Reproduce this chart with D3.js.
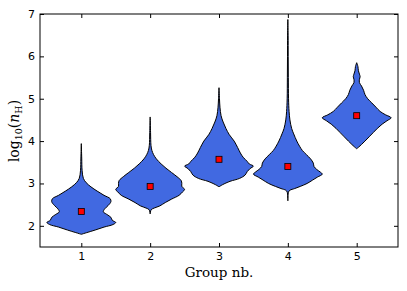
<!DOCTYPE html>
<html><head><meta charset="utf-8">
<script src="https://cdn.jsdelivr.net/npm/d3@7"></script>
<style>body{margin:0;background:#fff}svg{display:block}</style>
</head><body><svg id="c" width="407" height="291"></svg>
<script>
const groups = [1, 2, 3, 4, 5];
const xTicks = [1, 2, 3, 4, 5];
const yTicks = [2, 3, 4, 5, 6, 7];
const means = [2.34, 2.93, 3.57, 3.40, 4.60];
// violin outlines: [log10(nH), half width in group units]
const violin1 = [[3.94,0],[3.6,0.006],[3.3,0.012],[3.12,0.03],[3.02,0.07],[2.92,0.14],[2.82,0.23],[2.72,0.33],[2.64,0.42],[2.57,0.43],[2.48,0.39],[2.4,0.34],[2.33,0.32],[2.27,0.37],[2.2,0.43],[2.13,0.45],[2.08,0.5],[2.03,0.46],[1.97,0.33],[1.9,0.2],[1.84,0.08],[1.8,0]];
const violin2 = [[4.57,0],[4.2,0.006],[3.9,0.012],[3.78,0.025],[3.68,0.05],[3.58,0.09],[3.46,0.16],[3.36,0.23],[3.26,0.31],[3.16,0.39],[3.07,0.45],[3.0,0.46],[2.93,0.46],[2.86,0.5],[2.8,0.47],[2.72,0.42],[2.63,0.31],[2.55,0.22],[2.47,0.14],[2.42,0.06],[2.38,0.015],[2.28,0]];
const violin3 = [[5.26,0],[5.0,0.007],[4.8,0.014],[4.6,0.03],[4.45,0.06],[4.3,0.1],[4.15,0.15],[4.0,0.22],[3.85,0.27],[3.72,0.31],[3.62,0.35],[3.52,0.41],[3.46,0.44],[3.41,0.5],[3.35,0.45],[3.28,0.41],[3.2,0.38],[3.12,0.3],[3.05,0.16],[2.97,0.05],[2.92,0]];
const violin4 = [[6.87,0],[6.5,0.004],[6.0,0.005],[5.5,0.007],[5.0,0.01],[4.7,0.018],[4.5,0.03],[4.3,0.055],[4.17,0.085],[4.0,0.13],[3.88,0.17],[3.78,0.21],[3.68,0.27],[3.58,0.33],[3.48,0.37],[3.4,0.38],[3.33,0.42],[3.27,0.47],[3.22,0.5],[3.15,0.43],[3.08,0.36],[3.0,0.28],[2.93,0.18],[2.88,0.1],[2.84,0.03],[2.8,0.01],[2.59,0]];
const violin5 = [[5.85,0],[5.76,0.018],[5.66,0.025],[5.58,0.04],[5.52,0.05],[5.46,0.04],[5.38,0.04],[5.3,0.07],[5.2,0.1],[5.1,0.12],[5.0,0.16],[4.9,0.22],[4.8,0.28],[4.7,0.34],[4.62,0.42],[4.55,0.5],[4.48,0.44],[4.4,0.37],[4.3,0.3],[4.2,0.24],[4.1,0.18],[4.0,0.12],[3.92,0.07],[3.86,0.03],[3.82,0]];
const violins = [violin1, violin2, violin3, violin4, violin5];

const svg = d3.select("#c");
const L = 40, R = 398, T = 14, B = 247;
const x = d3.scaleLinear().domain([0.4, 5.6]).range([L, R]);
const y = d3.scaleLinear().domain([1.5, 7]).range([B, T]);

const g = svg.append("g");
violins.forEach((v, i) => {
  const cx = groups[i];
  const area = d3.area()
    .y(d => y(d[0]))
    .x0(d => x(cx - d[1]))
    .x1(d => x(cx + d[1]))
    .curve(d3.curveCatmullRom);
  g.append("path").attr("d", area(v))
    .attr("fill", "#4169e1").attr("stroke", "#000").attr("stroke-width", 1);
});
g.selectAll("rect.m").data(means).enter().append("rect")
  .attr("x", (d, i) => x(groups[i]) - 3).attr("y", d => y(d) - 3)
  .attr("width", 6).attr("height", 6)
  .attr("fill", "#ff0000").attr("stroke", "#000").attr("stroke-width", 0.8);

// frame
svg.append("rect").attr("x", L).attr("y", T).attr("width", R - L).attr("height", B - T)
  .attr("fill", "none").attr("stroke", "#000").attr("stroke-width", 1);

const font = "DejaVu Sans";
const xb = svg.append("g").attr("transform", `translate(0,${B})`)
  .call(d3.axisBottom(x).tickValues(xTicks).tickSizeInner(-4).tickSizeOuter(0).tickPadding(5).tickFormat(d3.format("d")));
const xt = svg.append("g").attr("transform", `translate(0,${T})`)
  .call(d3.axisTop(x).tickValues(xTicks).tickSizeInner(-4).tickSizeOuter(0).tickFormat(""));
const yl = svg.append("g").attr("transform", `translate(${L},0)`)
  .call(d3.axisLeft(y).tickValues(yTicks).tickSizeInner(-4).tickSizeOuter(0).tickPadding(5).tickFormat(d3.format("d")));
const yr = svg.append("g").attr("transform", `translate(${R},0)`)
  .call(d3.axisRight(y).tickValues(yTicks).tickSizeInner(-4).tickSizeOuter(0).tickFormat(""));
[xb, xt, yl, yr].forEach(a => {
  a.select(".domain").remove();
  a.selectAll("line").attr("stroke", "#000");
  a.selectAll("text").attr("font-family", font).attr("font-size", 11).attr("fill", "#000");
});

svg.append("text").attr("x", (L + R) / 2).attr("y", 277).attr("text-anchor", "middle")
  .attr("font-family", "DejaVu Serif, Liberation Serif, serif").attr("font-size", 13.5).text("Group nb.");

const yt = svg.append("text").attr("transform", `translate(19,131) rotate(-90)`)
  .attr("text-anchor", "middle").attr("font-family", "DejaVu Serif, serif").attr("font-size", 14);
yt.append("tspan").text("log");
yt.append("tspan").attr("font-size", 9.5).attr("dy", 3).text("10");
yt.append("tspan").attr("dy", -3).text("(");
yt.append("tspan").attr("font-style", "italic").text("n");
yt.append("tspan").attr("font-size", 9.5).attr("dy", 3).text("H");
yt.append("tspan").attr("dy", -3).text(")");
</script></body></html>
